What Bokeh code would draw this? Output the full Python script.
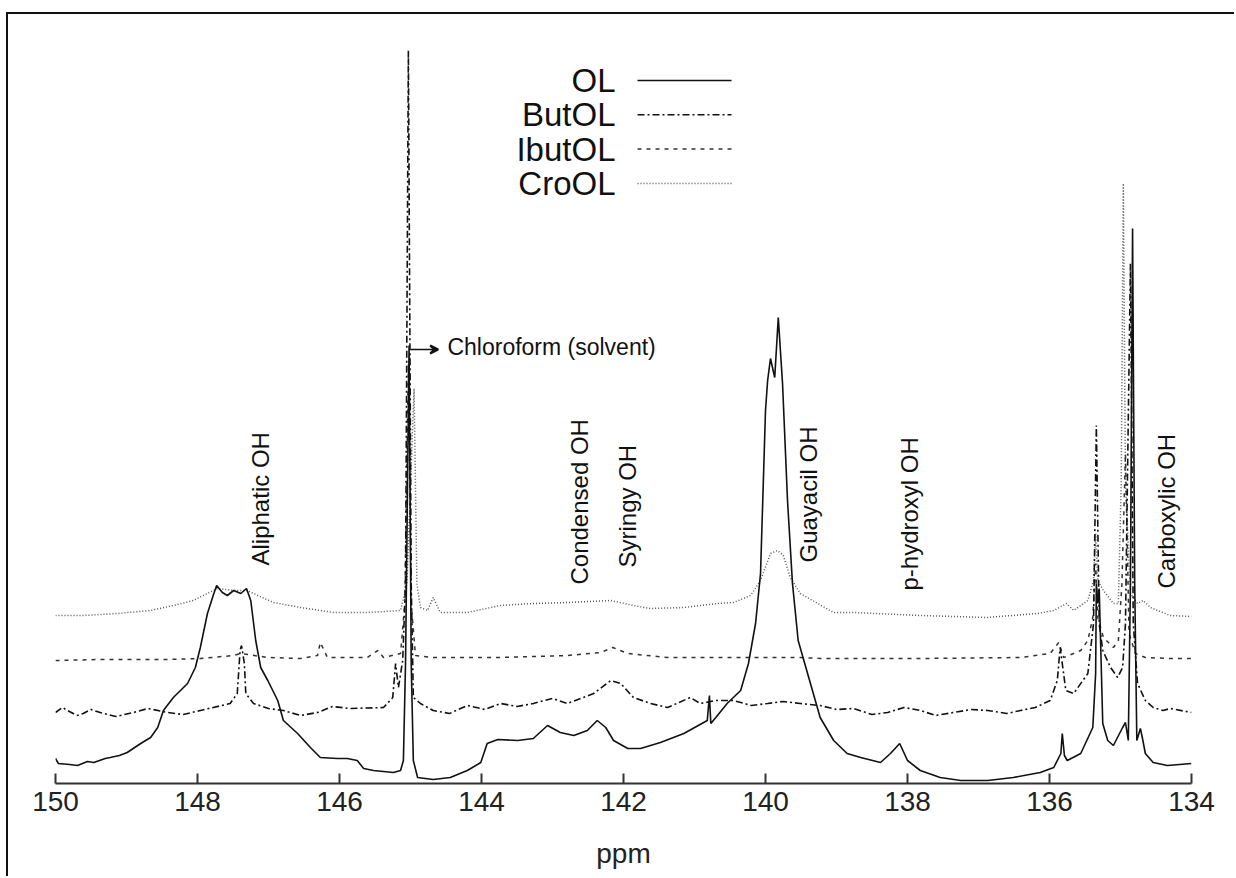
import math
from bokeh.plotting import figure
from bokeh.models import Range1d, FixedTicker, Arrow, VeeHead, Label
from bokeh.core.properties import value
from bokeh.embed import file_html
from bokeh.resources import INLINE

# ---------------- data (ppm, intensity a.u.) ----------------
ol_ppm = [150.00, 149.96, 149.80, 149.69, 149.55, 149.46, 149.30, 149.23, 149.10, 148.99,
          148.80, 148.66, 148.56, 148.48, 148.34, 148.14, 148.03, 147.96, 147.86, 147.77,
          147.73, 147.65, 147.58, 147.49, 147.39, 147.31, 147.25, 147.18, 147.11, 147.01,
          146.87, 146.79, 146.59, 146.41, 146.27, 146.03, 145.89, 145.75, 145.66, 145.52,
          145.24, 145.14, 145.10, 145.07, 145.02, 144.99, 144.96, 144.90, 144.68, 144.44,
          144.20, 144.01, 143.92, 143.77, 143.49, 143.27, 143.07, 142.89, 142.70, 142.51,
          142.37, 142.25, 142.14, 141.94, 141.76, 141.48, 141.15, 140.82, 140.79, 140.77,
          140.70, 140.54, 140.35, 140.24, 140.14, 140.07, 140.00, 139.97, 139.93, 139.87,
          139.82, 139.76, 139.69, 139.62, 139.54, 139.23, 139.04, 138.85, 138.66, 138.38,
          138.24, 138.11, 138.00, 137.82, 137.54, 137.25, 136.87, 136.51, 136.13, 135.94,
          135.84, 135.82, 135.79, 135.75, 135.56, 135.39, 135.35, 135.34, 135.32, 135.30,
          135.25, 135.18, 135.10, 134.97, 134.93, 134.89, 134.86, 134.83, 134.80, 134.77,
          134.72, 134.69, 134.65, 134.54, 134.34, 134.00]
ol_int = [25, 20, 19, 18, 22, 21, 25, 26, 28, 31,
          40, 46, 56, 73, 86, 100, 116, 136, 170, 190,
          198, 191, 188, 193, 190, 195, 183, 143, 116, 103,
          83, 63, 50, 36, 26, 25, 25, 23, 15, 13,
          11, 13, 23, 120, 438, 120, 23, 6, 4, 6,
          13, 21, 40, 44, 43, 45, 58, 51, 48, 53,
          63, 56, 43, 35, 35, 41, 50, 63, 88, 60,
          66, 80, 93, 120, 160, 210, 373, 403, 425, 406,
          466, 400, 283, 200, 143, 66, 43, 30, 26, 21,
          30, 40, 23, 13, 6, 3, 3, 6, 11, 16,
          30, 50, 28, 23, 30, 56, 110, 200, 180, 195,
          60, 43, 38, 56, 61, 43, 200, 555, 200, 43,
          55, 45, 30, 21, 18, 20]

but_ppm = [150.00, 149.90, 149.83, 149.70, 149.61, 149.50, 149.37, 149.15, 148.90, 148.70,
           148.42, 148.20, 147.96, 147.54, 147.44, 147.40, 147.38, 147.34, 147.32, 147.21,
           147.00, 146.79, 146.55, 146.31, 146.10, 145.85, 145.38, 145.25, 145.21, 145.17,
           145.11, 145.07, 145.03, 144.99, 144.96, 144.86, 144.68, 144.45, 144.20, 143.95,
           143.73, 143.50, 143.27, 143.00, 142.79, 142.42, 142.18, 142.04, 141.86, 141.62,
           141.38, 141.06, 140.92, 140.70, 140.45, 140.20, 139.97, 139.75, 139.51, 139.23,
           139.00, 138.76, 138.50, 138.28, 138.05, 137.82, 137.60, 137.35, 137.10, 136.87,
           136.60, 136.41, 136.20, 135.99, 135.89, 135.85, 135.77, 135.66, 135.46, 135.38,
           135.34, 135.30, 135.25, 135.14, 135.04, 134.97, 134.93, 134.86, 134.82, 134.76,
           134.65, 134.54, 134.40, 134.30, 134.00]
but_int = [71, 76, 73, 68, 70, 74, 71, 67, 71, 75,
           71, 69, 73, 80, 90, 133, 138, 120, 90, 80,
           75, 73, 68, 71, 77, 75, 76, 86, 120, 96,
           123, 200, 733, 200, 86, 80, 73, 70, 78, 74,
           80, 77, 80, 85, 80, 90, 103, 100, 86, 80,
           76, 86, 80, 83, 83, 78, 80, 82, 80, 78,
           74, 75, 69, 71, 76, 73, 68, 71, 74, 73,
           70, 73, 76, 83, 103, 136, 93, 90, 110, 160,
           358, 160, 133, 116, 106, 116, 160, 520, 160, 100,
           83, 76, 73, 75, 71]

ibut_ppm = [150.00, 149.37, 148.42, 147.96, 147.49, 147.39, 147.01, 146.55, 146.31, 146.27,
            146.17, 145.61, 145.46, 145.38, 145.14, 145.08, 145.03, 144.99, 144.93, 144.68,
            143.73, 142.79, 142.32, 142.15, 141.94, 141.38, 140.45, 139.51, 139.23, 137.82,
            136.41, 135.99, 135.87, 135.80, 135.56, 135.46, 135.39, 135.35, 135.32, 135.24,
            135.10, 135.03, 134.98, 134.93, 134.88, 134.79, 134.65, 134.30, 134.00]
ibut_int = [123, 124, 124, 125, 128, 130, 126, 125, 128, 141,
            126, 126, 133, 126, 130, 180, 420, 180, 128, 126,
            126, 128, 131, 136, 130, 126, 126, 126, 125, 125,
            126, 130, 141, 126, 133, 143, 166, 220, 166, 146,
            136, 143, 200, 330, 150, 130, 126, 125, 125]

cro_ppm = [150.00, 149.61, 149.13, 148.66, 148.34, 148.06, 147.86, 147.72, 147.49, 147.30,
           147.15, 146.93, 146.55, 146.08, 145.61, 145.14, 145.05, 144.95, 144.91, 144.86,
           144.76, 144.68, 144.58, 144.20, 143.73, 143.27, 142.79, 142.18, 141.86, 141.62,
           141.15, 140.68, 140.45, 140.21, 140.07, 139.93, 139.83, 139.75, 139.65, 139.51,
           139.04, 138.76, 137.82, 136.87, 136.17, 135.94, 135.76, 135.66, 135.46, 135.38,
           135.35, 135.32, 135.24, 135.10, 135.03, 134.99, 134.96, 134.93, 134.86, 134.76,
           134.68, 134.58, 134.30, 134.00]
cro_int = [168, 168, 170, 173, 178, 183, 190, 195, 193, 193,
           188, 181, 176, 171, 171, 173, 200, 395, 200, 176,
           173, 186, 171, 171, 178, 180, 181, 183, 178, 175,
           176, 180, 181, 188, 203, 230, 233, 228, 206, 190,
           171, 171, 168, 166, 170, 173, 180, 173, 183, 203,
           250, 203, 193, 180, 180, 300, 600, 300, 190, 180,
           183, 176, 168, 167]

series_names = ["OL", "ButOL", "IbutOL", "CroOL"]
x_ticks = [150, 148, 146, 144, 142, 140, 138, 136, 134]
x_title = "ppm"

band_labels = ["Aliphatic OH", "Condensed OH", "Syringy OH", "Guayacil OH", "p-hydroxyl OH", "Carboxylic OH"]
band_ppm = [147.11, 142.62, 141.94, 139.40, 137.97, 134.35]
band_base = [218, 199, 216, 221, 193, 195]

solvent_label = "Chloroform (solvent)"
solvent_ppm = 145.0
solvent_level = 434

# ---------------- layout ----------------
FONT = "Liberation Sans"
FRAME_W = 1136
FRAME_H = 760
LEFT, RIGHT, TOP, BOTTOM = 47, 45, 9, 95

p = figure(width=LEFT + FRAME_W + RIGHT, height=TOP + FRAME_H + BOTTOM,
           x_range=Range1d(150, 134), y_range=Range1d(0, FRAME_H),
           output_backend="svg", toolbar_location=None,
           min_border_left=LEFT, min_border_right=RIGHT,
           min_border_top=TOP, min_border_bottom=BOTTOM,
           y_axis_location=None)
p.styles = {"border-left": "2px solid #111", "border-top": "2px solid #111",
            "margin-left": "6px", "margin-top": "12px"}
p.outline_line_color = None
p.grid.visible = False
p.background_fill_color = "white"
p.border_fill_color = "white"

ax = p.xaxis[0]
ax.ticker = FixedTicker(ticks=x_ticks)
ax.axis_label = x_title
ax.axis_label_text_font = FONT
ax.axis_label_text_font_style = "normal"
ax.axis_label_text_font_size = "28px"
ax.axis_label_text_color = "#222"
ax.axis_label_standoff = 24
ax.major_label_text_font = FONT
ax.major_label_text_font_size = "28px"
ax.major_label_text_color = "#222"
ax.major_label_standoff = 8
ax.axis_line_width = 2
ax.axis_line_color = "#333"
ax.major_tick_in = 10
ax.major_tick_out = 0
ax.major_tick_line_width = 2
ax.major_tick_line_color = "#333"
ax.minor_tick_line_color = None

styles = [
    dict(line_color="#111", line_width=1.6, line_dash="solid"),
    dict(line_color="#111", line_width=1.6, line_dash="7 3 2 3"),
    dict(line_color="#333", line_width=1.5, line_dash="4 5"),
    dict(line_color="#555", line_width=1.5, line_dash="1 2"),
]
data = [(ol_ppm, ol_int), (but_ppm, but_int), (ibut_ppm, ibut_int), (cro_ppm, cro_int)]
for (xs, ys), st in zip(data[::-1], styles[::-1]):
    p.line(xs, ys, **st)

# manual legend (text left of sample line), positioned in pixel layout
PX_PER_PPM = FRAME_W / 16.0
def px2ppm(dx):
    return 150 - dx / PX_PER_PPM

leg_text_x = px2ppm(560)
leg_l0 = px2ppm(582)
leg_l1 = px2ppm(676)
for i, (name, st) in enumerate(zip(series_names, styles)):
    yy = 703 - i * 34.3
    p.line([leg_l0, leg_l1], [yy, yy], **st)
    p.add_layout(Label(x=leg_text_x, y=yy, text=name, text_align="right",
                       text_baseline="middle", text_font=FONT,
                       text_font_size="33px", text_color="#111"))

# band annotations (rotated)
p.text(x=band_ppm, y=band_base, text=band_labels, angle=math.pi / 2,
       text_align="left", text_baseline="middle",
       text_font=value(FONT), text_font_size="24px", text_color="#111")

# solvent arrow
p.add_layout(Arrow(end=VeeHead(size=8, line_color="#111", line_width=2),
                   x_start=solvent_ppm, y_start=solvent_level,
                   x_end=solvent_ppm - 0.39, y_end=solvent_level,
                   line_color="#111", line_width=1.5))
p.add_layout(Label(x=solvent_ppm - 0.52, y=solvent_level + 3, text=solvent_label,
                   text_align="left", text_baseline="middle", text_font=FONT,
                   text_font_size="23px", text_color="#111"))

open("out.html", "w").write(file_html(p, INLINE))
